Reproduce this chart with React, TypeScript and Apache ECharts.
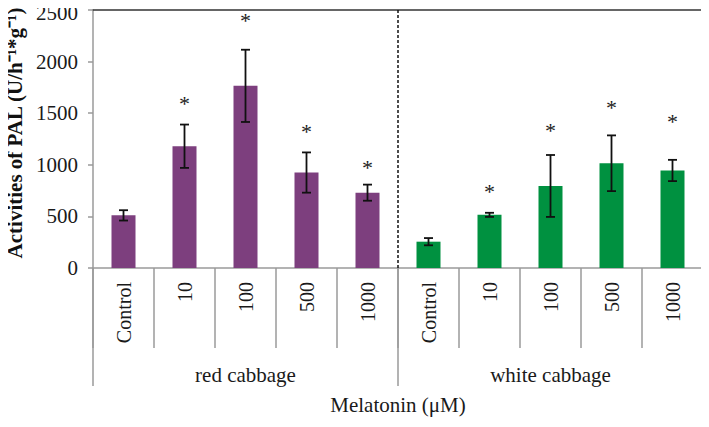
import React, { useEffect, useRef } from "react";
import * as echarts from "echarts";

const categories = ["Control", "10", "100", "500", "1000", "Control", "10", "100", "500", "1000"];
const groups = ["red cabbage", "white cabbage"];
const means = [510, 1180, 1765, 925, 730, 255, 515, 795, 1015, 945];
const errors = [50, 210, 350, 195, 78, 35, 20, 300, 270, 103];
const starY = [null, 1590, 2400, 1320, 970, null, 740, 1335, 1555, 1420];
const groupColors = ["#7d3f7e", "#009140"];
const yTicks = { min: 0, max: 2500, interval: 500 };
const yTitle = "Activities of PAL (U/h⁻¹*g⁻¹)";

const FONT = "Liberation Serif";

export default function App() {
  const ref = useRef<HTMLDivElement>(null);
  useEffect(() => {
    if (!ref.current) return;
    const chart = echarts.init(ref.current, undefined, { renderer: "svg" });
    const barData = means.map((v, i) => ({
      value: v,
      itemStyle: { color: groupColors[i < 5 ? 0 : 1] },
    }));
    const errData = means.map((v, i) => [i, v, errors[i]]);
    const starData = starY
      .map((v, i) => (v == null ? null : [i, v]))
      .filter((d) => d != null);
    chart.setOption({
      animation: false,
      grid: {
        left: 93,
        right: 6,
        top: 10,
        bottom: 159,
        containLabel: false,
        outerBoundsMode: "none",
      },
      graphic: [
        {
          type: "text",
          x: 15,
          y: 133,
          rotation: Math.PI / 2,
          style: {
            text: yTitle,
            fontFamily: FONT,
            fontSize: 21,
            fontWeight: "bold",
            fill: "#111",
            align: "center",
            verticalAlign: "middle",
          },
        },
      ],
      xAxis: [
        {
          type: "category",
          data: categories,
          position: "bottom",
          axisLine: { show: true, lineStyle: { color: "#9a9a9a", width: 1.5 } },
          axisTick: { show: true, interval: 0, length: 80, lineStyle: { color: "#9a9a9a", width: 1.5 } },
          axisLabel: {
            interval: 0,
            rotate: 90,
            margin: 14,
            fontFamily: FONT,
            fontSize: 20,
            color: "#1a1a1a",
          },
        },
        {
          type: "category",
          data: groups,
          position: "bottom",
          axisLine: { show: false },
          axisTick: { show: true, interval: 0, length: 118, lineStyle: { color: "#9a9a9a", width: 1.5 } },
          axisLabel: {
            interval: 0,
            margin: 96,
            fontFamily: FONT,
            fontSize: 21,
            color: "#1a1a1a",
          },
          name: "Melatonin (μM)",
          nameLocation: "middle",
          nameGap: 126,
          nameTextStyle: { fontFamily: FONT, fontSize: 21, color: "#1a1a1a" },
        },
        {
          type: "category",
          data: categories,
          position: "top",
          axisLine: { show: true, lineStyle: { color: "#333", width: 1.5 } },
          axisTick: { show: false },
          axisLabel: { show: false },
        },
      ],
      yAxis: [
        {
          type: "value",
          min: yTicks.min,
          max: yTicks.max,
          interval: yTicks.interval,
          splitLine: { show: false },
          axisLine: { show: true, lineStyle: { color: "#9a9a9a", width: 1.5 } },
          axisTick: { show: true, length: 5, lineStyle: { color: "#9a9a9a", width: 1.5 } },
          axisLabel: {
            fontFamily: FONT,
            fontSize: 21,
            color: "#1a1a1a",
            margin: 15,
            formatter: (v: number) => (v === yTicks.max ? "{t|" + v + "}" : String(v)),
            rich: {
              t: { fontFamily: FONT, fontSize: 21, color: "#1a1a1a", padding: [6, 0, 0, 0] },
            },
          },
        },
        {
          type: "value",
          position: "right",
          min: yTicks.min,
          max: yTicks.max,
          interval: yTicks.interval,
          splitLine: { show: false },
          axisLine: { show: true, lineStyle: { color: "#333", width: 1.5 } },
          axisTick: { show: false },
          axisLabel: { show: false },
        },
      ],
      series: [
        {
          type: "bar",
          data: barData,
          barWidth: 24,
          xAxisIndex: 0,
        },
        {
          type: "custom",
          xAxisIndex: 0,
          data: errData,
          encode: { x: 0, y: 1 },
          z: 5,
          renderItem: (params: any, api: any) => {
            const i = api.value(0);
            const m = api.value(1);
            const e = api.value(2);
            const top = api.coord([i, m + e]);
            const bot = api.coord([i, m - e]);
            const hw = 4.5;
            const st = { stroke: "#111", lineWidth: 1.8 };
            return {
              type: "group",
              children: [
                { type: "line", shape: { x1: top[0], y1: top[1], x2: bot[0], y2: bot[1] }, style: st },
                { type: "line", shape: { x1: top[0] - hw, y1: top[1], x2: top[0] + hw, y2: top[1] }, style: st },
                { type: "line", shape: { x1: bot[0] - hw, y1: bot[1], x2: bot[0] + hw, y2: bot[1] }, style: st },
              ],
            };
          },
        },
        {
          type: "custom",
          xAxisIndex: 0,
          data: starData,
          encode: { x: 0, y: 1 },
          z: 5,
          renderItem: (params: any, api: any) => {
            const p = api.coord([api.value(0), api.value(1)]);
            return {
              type: "text",
              x: p[0],
              y: p[1],
              style: {
                text: "*",
                fontFamily: FONT,
                fontSize: 22,
                fill: "#222",
                align: "center",
                verticalAlign: "middle",
              },
            };
          },
        },
        {
          type: "custom",
          xAxisIndex: 0,
          data: [[4, 5]],
          encode: { x: 0 },
          z: 4,
          renderItem: (params: any, api: any) => {
            const a = api.coord([api.value(0), yTicks.max]);
            const b = api.coord([api.value(1), yTicks.min]);
            const x = (a[0] + b[0]) / 2;
            return {
              type: "line",
              shape: { x1: x, y1: a[1], x2: x, y2: b[1] },
              style: { stroke: "#111", lineWidth: 1.5, lineDash: [3, 2] },
            };
          },
        },
      ],
    });
    return () => chart.dispose();
  }, []);
  return <div ref={ref} style={{ width: 709, height: 427, margin: -8 }} />;
}
